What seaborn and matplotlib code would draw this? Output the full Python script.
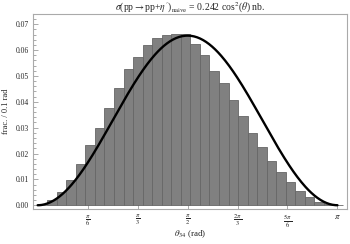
import numpy as np
import pandas as pd
import matplotlib
matplotlib.use('Agg')
import matplotlib.pyplot as plt
import seaborn as sns

# histogram: fraction per 0.1 rad bin, bins starting at 0.0, 0.1, ... 3.1
bin_width = 0.1
frac = [0.0002, 0.0019, 0.0050, 0.0099, 0.0161, 0.0232, 0.0300, 0.0377,
        0.0452, 0.0526, 0.0575, 0.0620, 0.0645, 0.0659, 0.0663, 0.0663,
        0.0624, 0.0582, 0.0521, 0.0472, 0.0408, 0.0347, 0.0281, 0.0225,
        0.0171, 0.0129, 0.0088, 0.0054, 0.0030, 0.0012, 0.0004, 0.0001]

# model curve amplitude (peak at pi/2)
curve_peak = 0.0656

xtick_vals = [np.pi / 6, np.pi / 3, np.pi / 2, 2 * np.pi / 3, 5 * np.pi / 6, np.pi]
xtick_labels = [r'$\frac{\pi}{6}$', r'$\frac{\pi}{3}$', r'$\frac{\pi}{2}$',
                r'$\frac{2\,\pi}{3}$', r'$\frac{5\,\pi}{6}$', r'$\pi$']
ytick_vals = [0.00, 0.01, 0.02, 0.03, 0.04, 0.05, 0.06, 0.07]

sns.set_style('white')
plt.rcParams['font.family'] = ['Liberation Serif', 'DejaVu Serif']
plt.rcParams['mathtext.fontset'] = 'stix'

n_bins = len(frac)
hist_df = pd.DataFrame({'theta': (np.arange(n_bins) + 0.5) * bin_width, 'frac': frac})

theta = np.linspace(0, np.pi, 300)
curve_df = pd.DataFrame({'theta': theta, 'frac': curve_peak * np.sin(theta) ** 2})

fig = plt.figure(figsize=(3.5, 2.44), dpi=100)
ax = fig.add_axes([0.094, 0.143, 0.897, 0.800])

sns.histplot(data=hist_df, x='theta', weights='frac', binwidth=bin_width,
             binrange=(0, n_bins * bin_width), stat='count',
             color='#808080', edgecolor='#666666', linewidth=0.6, alpha=1.0, ax=ax)
sns.lineplot(data=curve_df, x='theta', y='frac', color='black', linewidth=1.7, ax=ax)

ax.set_xlim(-0.05, 3.24)
ax.set_ylim(-0.0015, 0.074)

ax.set_xticks(xtick_vals)
ax.set_xticklabels(xtick_labels, fontsize=6.5)
ax.set_yticks(ytick_vals)
ax.set_yticklabels([f'{v:.2f}' for v in ytick_vals], fontsize=5.5)
ax.set_yticks(np.arange(0, 0.0735, 0.002), minor=True)

ax.tick_params(axis='both', which='major', direction='in', length=3.5, width=0.5,
               color='#888888', pad=3)
ax.tick_params(axis='y', which='minor', direction='in', length=1.8, width=0.5,
               color='#888888')
ax.tick_params(axis='y', which='both', left=True)
ax.tick_params(axis='x', which='major', bottom=True)

for spine in ax.spines.values():
    spine.set_color('#aaaaaa')
    spine.set_linewidth(0.8)

ax.set_xlabel(r'$\theta_{34}$ (rad)', fontsize=6.5)
ax.xaxis.set_label_coords(0.5, -0.13)
ax.xaxis.label.set_va('center')
ax.set_ylabel('frac. / 0.1 rad', fontsize=6)
ax.set_title(r'$\sigma$(pp$\rightarrow$pp+$\eta^{\prime}$)$_{\rm naive}$ = 0.242 cos$^2$($\theta$) nb.',
             fontsize=7, pad=2)

fig.savefig('out.png', dpi=100)
